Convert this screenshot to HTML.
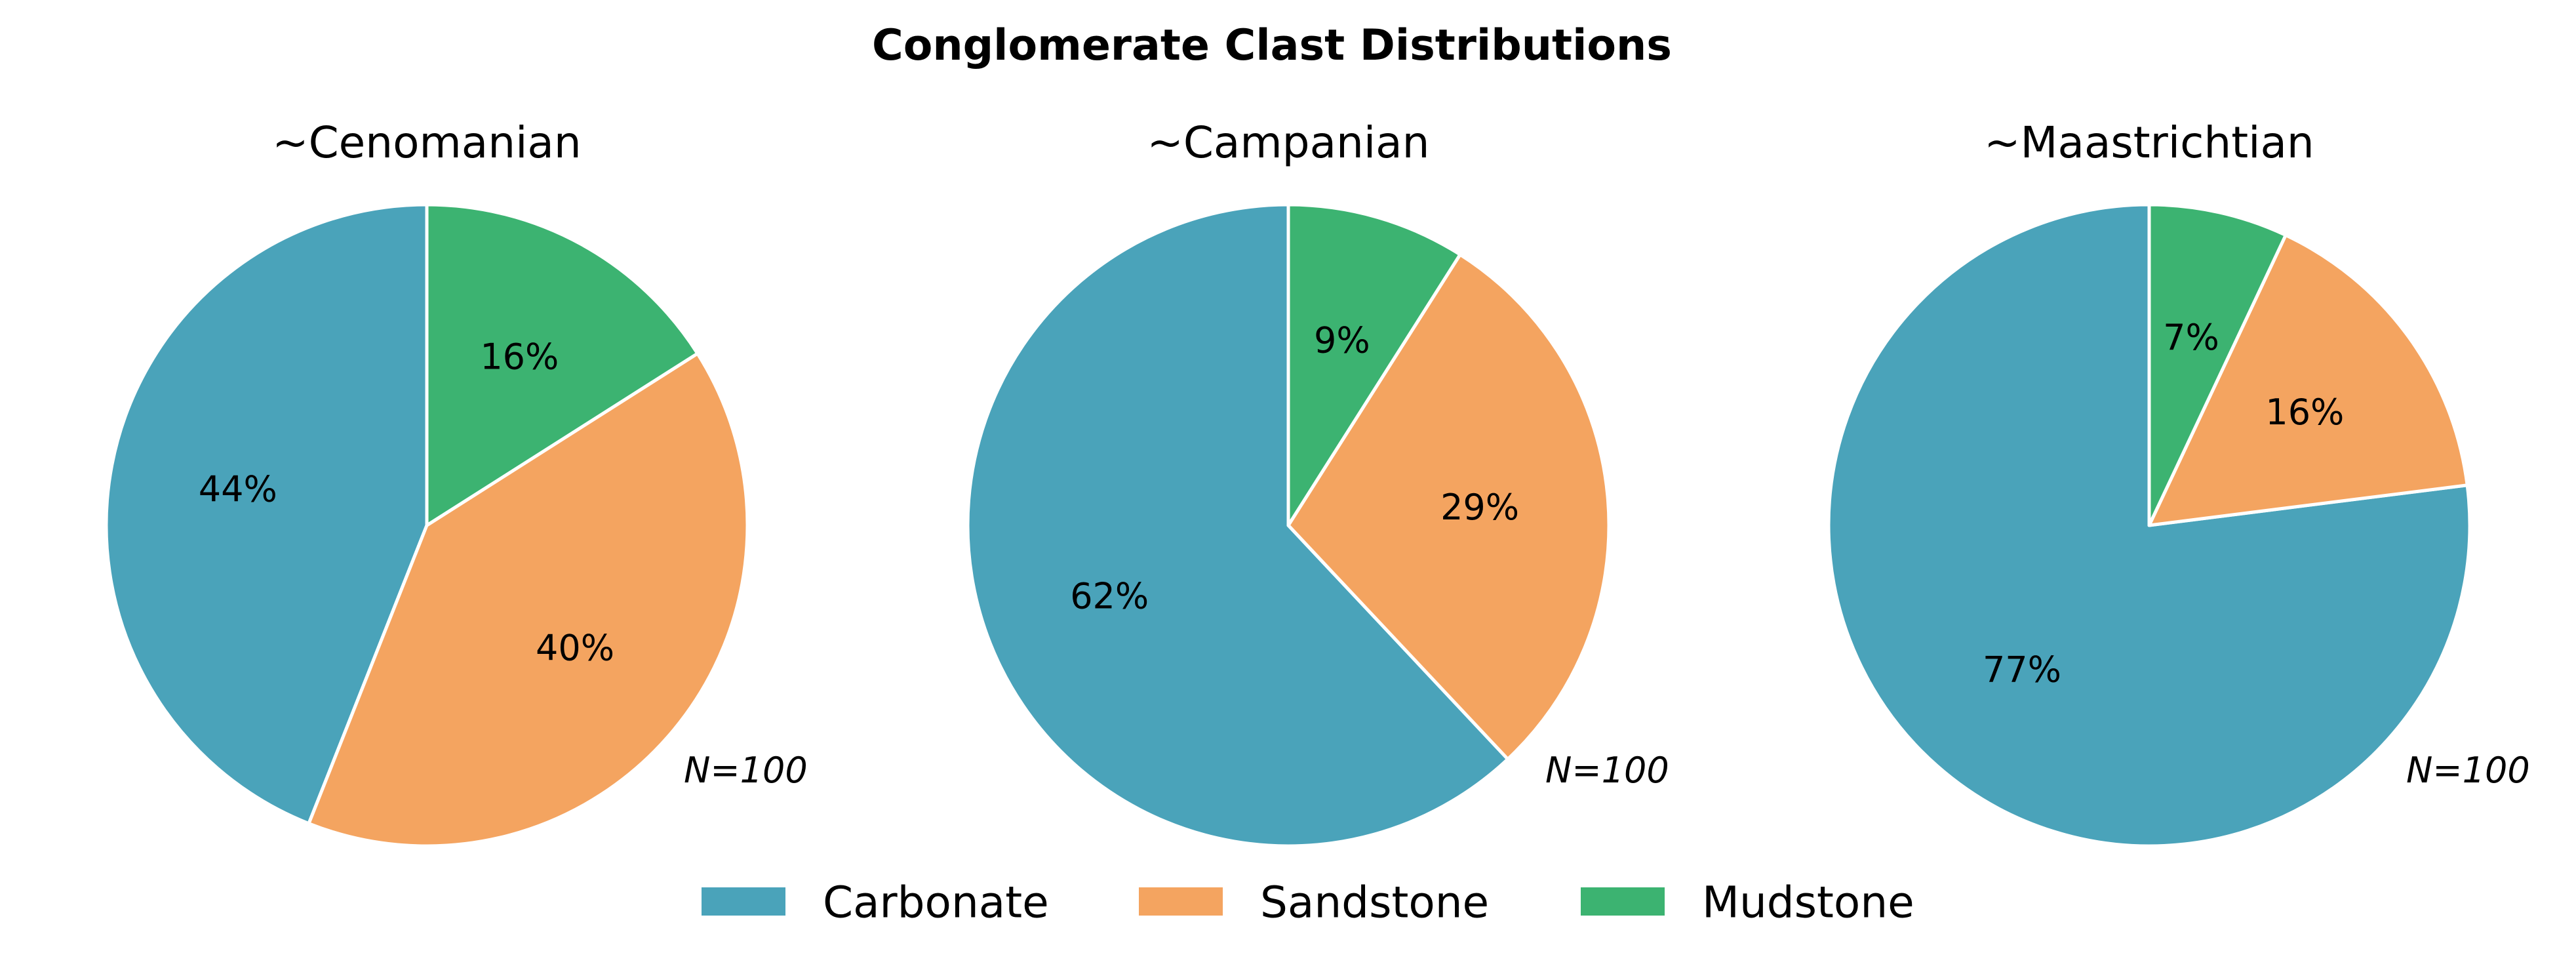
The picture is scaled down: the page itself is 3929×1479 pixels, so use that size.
<!DOCTYPE html>
<html><head><meta charset="utf-8"><style>
html,body{margin:0;padding:0;background:#fff;}
svg{display:block;font-family:"DejaVu Sans","Liberation Sans",sans-serif;}
</style></head><body>
<svg id="chart" width="3929" height="1479" viewBox="0 0 3929 1479" xmlns="http://www.w3.org/2000/svg">
<rect width="3929" height="1479" fill="#fff"/>
<text x="1940" y="91" font-size="65" font-weight="bold" text-anchor="middle">Conglomerate Clast Distributions</text>
<g id="pies"></g>
<g id="legend"></g>
</svg>
<script>
const periods = ["~Cenomanian", "~Campanian", "~Maastrichtian"];
const categories = ["Carbonate", "Sandstone", "Mudstone"];
const carbonateValues = [44, 62, 77];
const sandstoneValues = [40, 29, 16];
const mudstoneValues = [16, 9, 7];
const sampleCounts = [100, 100, 100];
const colors = ["#4aa3ba", "#f4a460", "#3cb371"];

const NS = "http://www.w3.org/2000/svg";
const centersX = [651, 1965, 3278];
const cy = 801, R = 489;
const pies = document.getElementById("pies");
function mk(tag, attrs, parent){const e=document.createElementNS(NS,tag);for(const k in attrs)e.setAttribute(k,attrs[k]);parent.appendChild(e);return e;}
function pt(cx, ang, r){return [cx + r*Math.cos(ang*Math.PI/180), cy - r*Math.sin(ang*Math.PI/180)];}

periods.forEach((p, i) => {
  const cx = centersX[i];
  const g = mk("g", {}, pies);
  
  
  const vals = [carbonateValues[i], sandstoneValues[i], mudstoneValues[i]];
  const total = vals.reduce((a,b)=>a+b,0);
  let start = 90;
  vals.forEach((v, j) => {
    const sweep = v/total*360;
    const end = start + sweep;
    const [x1,y1] = pt(cx,start,R), [x2,y2] = pt(cx,end,R);
    const large = sweep > 180 ? 1 : 0;
    const path = mk("path", {d:`M${cx},${cy} L${x1},${y1} A${R},${R} 0 ${large} 0 ${x2},${y2} Z`, fill:colors[j], stroke:"#fff", "stroke-width":5, "stroke-linejoin":"round"}, g);
    
    
    const mid = start + sweep/2;
    const [lx,ly] = pt(cx,mid,R*0.6);
    const t = mk("text", {x:lx, y:ly, "font-size":54, "text-anchor":"middle", "dominant-baseline":"central"}, g);
    t.textContent = Math.round(v/total*100) + "%";
    
    
    start = end;
  });
  const title = mk("text", {x:cx, y:240, "font-size":66, "text-anchor":"middle"}, g);
  title.textContent = p;
  
  
  const n = mk("text", {x:cx+392, y:1193, "font-size":54, "font-style":"italic"}, g);
  n.textContent = "N=" + sampleCounts[i];
  
  
});

const legend = document.getElementById("legend");
const legX = [1070, 1737, 2411];
categories.forEach((c, j) => {
  const g = mk("g", {}, legend);
  
  
  const r = mk("rect", {x:legX[j], y:1353, width:128, height:43, fill:colors[j]}, g);
  
  
  const t = mk("text", {x:legX[j]+185, y:1376, "font-size":66, "dominant-baseline":"central"}, g);
  t.textContent = c;
  
  
});
</script>
</body></html>
